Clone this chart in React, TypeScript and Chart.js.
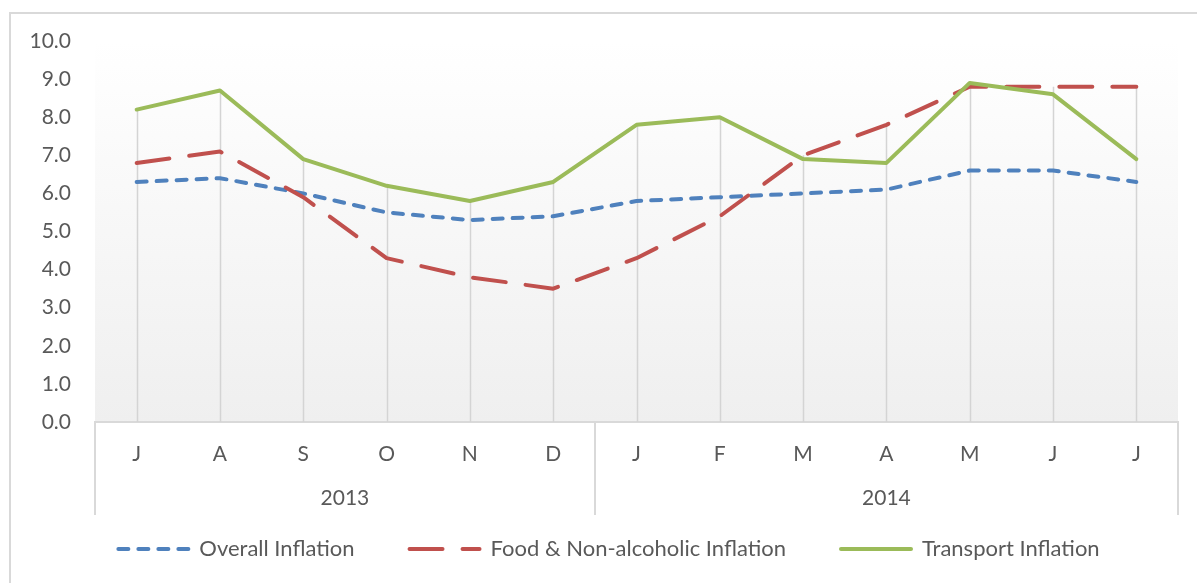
import React, { useEffect, useRef } from 'react';
import { Chart, registerables } from 'chart.js';

Chart.register(...registerables);

const months = ['J', 'A', 'S', 'O', 'N', 'D', 'J', 'F', 'M', 'A', 'M', 'J', 'J'];
const yearLabels = ['2013', '2014'];
const yearMonthCounts = [6, 7];
const overallInflation = [6.3, 6.4, 6.0, 5.5, 5.3, 5.4, 5.8, 5.9, 6.0, 6.1, 6.6, 6.6, 6.3];
const foodInflation = [6.8, 7.1, 5.9, 4.3, 3.8, 3.5, 4.3, 5.4, 7.0, 7.8, 8.8, 8.8, 8.8];
const transportInflation = [8.2, 8.7, 6.9, 6.2, 5.8, 6.3, 7.8, 8.0, 6.9, 6.8, 8.9, 8.6, 6.9];
const seriesLabels = ['Overall Inflation', 'Food & Non-alcoholic Inflation', 'Transport Inflation'];
const yMin = 0;
const yMax = 10;
const yStep = 1;

const FONT = 'Lato, Carlito, Calibri, sans-serif';
const TEXT = '#595959';
const LINE_GRAY = '#d9d9d9';

const plotBackground = {
  id: 'plotBackground',
  beforeDraw(chart: any) {
    const { ctx, chartArea } = chart;
    if (!chartArea) return;
    const g = ctx.createLinearGradient(0, chartArea.top, 0, chartArea.bottom);
    g.addColorStop(0, '#ffffff');
    g.addColorStop(1, '#efefef');
    ctx.save();
    ctx.fillStyle = g;
    ctx.fillRect(chartArea.left, chartArea.top, chartArea.right - chartArea.left, chartArea.bottom - chartArea.top);
    ctx.restore();
  },
};

const legendShift = {
  id: 'legendShift',
  afterLayout(chart: any) {
    if (chart.legend) {
      chart.legend.left += 10;
      chart.legend.right += 10;
    }
  },
};

const dropLines = {
  id: 'dropLines',
  beforeDatasetsDraw(chart: any) {
    const { ctx, scales } = chart;
    const x = scales.x;
    const y = scales.y;
    ctx.save();
    ctx.strokeStyle = '#d4d4d4';
    ctx.lineWidth = 1.5;
    months.forEach((_, i) => {
      const maxV = Math.max(...chart.data.datasets.map((d: any) => d.data[i]));
      const px = Math.round(x.getPixelForValue(i)) + 0.5;
      ctx.beginPath();
      ctx.moveTo(px, y.getPixelForValue(maxV));
      ctx.lineTo(px, y.getPixelForValue(yMin));
      ctx.stroke();
    });
    ctx.restore();
  },
};

const yearAxis = {
  id: 'yearAxis',
  afterDraw(chart: any) {
    const { ctx, chartArea, scales } = chart;
    const x = scales.x;
    const bottom = chartArea.bottom;
    const sepBottom = bottom + 93;
    const bounds: number[] = [chartArea.left];
    let idx = 0;
    yearMonthCounts.forEach((c, k) => {
      idx += c;
      if (k < yearMonthCounts.length - 1) {
        bounds.push((x.getPixelForValue(idx - 1) + x.getPixelForValue(idx)) / 2);
      }
    });
    bounds.push(chartArea.right);
    ctx.save();
    ctx.strokeStyle = LINE_GRAY;
    ctx.lineWidth = 2;
    bounds.forEach((b) => {
      const px = Math.round(b);
      ctx.beginPath();
      ctx.moveTo(px, bottom);
      ctx.lineTo(px, sepBottom);
      ctx.stroke();
    });
    ctx.fillStyle = TEXT;
    ctx.font = `21px ${FONT}`;
    ctx.textAlign = 'center';
    ctx.textBaseline = 'middle';
    yearLabels.forEach((lab, k) => {
      ctx.fillText(lab, (bounds[k] + bounds[k + 1]) / 2, bottom + 76);
    });
    ctx.restore();
  },
};

export default function App() {
  const canvasRef = useRef<HTMLCanvasElement | null>(null);

  useEffect(() => {
    if (!canvasRef.current) return;
    const chart = new Chart(canvasRef.current, {
      type: 'line',
      data: {
        labels: months,
        datasets: [
          {
            label: seriesLabels[0],
            data: overallInflation,
            borderColor: '#4F81BD',
            backgroundColor: '#4F81BD',
            borderWidth: 4,
            borderDash: [10, 10],
            borderCapStyle: 'round',
            borderJoinStyle: 'round',
            pointRadius: 0,
            tension: 0,
            order: 3,
          },
          {
            label: seriesLabels[1],
            data: foodInflation,
            borderColor: '#C0504D',
            backgroundColor: '#C0504D',
            borderWidth: 4,
            borderDash: [33, 20],
            borderCapStyle: 'round',
            borderJoinStyle: 'round',
            pointRadius: 0,
            tension: 0,
            order: 2,
          },
          {
            label: seriesLabels[2],
            data: transportInflation,
            borderColor: '#9BBB59',
            backgroundColor: '#9BBB59',
            borderWidth: 4,
            borderCapStyle: 'round',
            borderJoinStyle: 'round',
            pointRadius: 0,
            tension: 0,
            order: 1,
          },
        ],
      },
      options: {
        responsive: false,
        animation: false,
        events: [],
        layout: { padding: { left: 20, right: 19, top: 41, bottom: 13 } },
        scales: {
          x: {
            type: 'category',
            offset: true,
            grid: { display: false, drawTicks: false, tickLength: 0 },
            border: { display: true, color: LINE_GRAY, width: 2 },
            ticks: {
              color: TEXT,
              font: { family: FONT, size: 21 },
              padding: 20,
              maxRotation: 0,
              autoSkip: false,
            },
            afterFit(scale: any) {
              scale.height = 61;
            },
          },
          y: {
            min: yMin,
            max: yMax,
            grid: { display: false, drawTicks: false, tickLength: 0 },
            border: { display: false },
            ticks: {
              stepSize: yStep,
              color: TEXT,
              font: { family: FONT, size: 21 },
              padding: 24,
              callback: (v: any) => Number(v).toFixed(1),
            },
            afterFit(scale: any) {
              scale.width = 75;
            },
          },
        },
        plugins: {
          tooltip: { enabled: false },
          legend: {
            position: 'bottom',
            labels: {
              usePointStyle: true,
              pointStyle: 'line',
              pointStyleWidth: 70,
              padding: 55,
              color: TEXT,
              font: { family: FONT, size: 22 },
              generateLabels: (c: any) =>
                c.data.datasets.map((ds: any, i: number) => ({
                  text: ds.label,
                  fillStyle: ds.borderColor,
                  strokeStyle: ds.borderColor,
                  fontColor: TEXT,
                  lineWidth: 4,
                  lineDash: ds.borderDash || [],
                  lineCap: 'round',
                  pointStyle: 'line',
                  hidden: false,
                  datasetIndex: i,
                })),
            },
          },
        },
      },
      plugins: [plotBackground, legendShift, dropLines, yearAxis],
    } as any);
    return () => chart.destroy();
  }, []);

  return (
    <div style={{ position: 'fixed', left: 0, top: 0, width: 1197, height: 583, overflow: 'hidden', background: '#ffffff' }}>
      <div
        style={{
          position: 'absolute',
          left: 9,
          top: 12,
          width: 1200,
          height: 600,
          border: '2px solid #d9d9d9',
          boxSizing: 'border-box',
        }}
      />
      <canvas ref={canvasRef} width={1197} height={583} style={{ position: 'absolute', left: 0, top: 0, width: 1197, height: 583 }} />
    </div>
  );
}
